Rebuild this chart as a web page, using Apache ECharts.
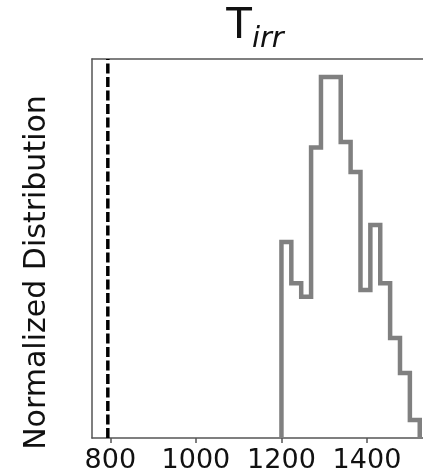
<!DOCTYPE html>
<html>
<head>
<meta charset="utf-8">
<script src="https://cdn.jsdelivr.net/npm/echarts@6/dist/echarts.min.js"></script>
<style>
  html, body { margin: 0; padding: 0; background: #fff; }
  #chart { width: 423px; height: 476px; }
</style>
</head>
<body>
<div id="chart"></div>
<script>
// histogram bins (start, width) and normalized heights
const binStart = 1200;
const binWidth = 23.1;
const binValues = [0.543, 0.429, 0.391, 0.805, 1.0, 1.0, 0.82, 0.737, 0.41, 0.59, 0.429, 0.277, 0.18, 0.05];
// dashed reference value
const refValue = 794;
const xTicks = [800, 1000, 1200, 1400];

// outline of the step histogram
const outline = [[binStart, 0]];
binValues.forEach((v, i) => {
  outline.push([binStart + i * binWidth, v]);
  outline.push([binStart + (i + 1) * binWidth, v]);
});
outline.push([binStart + binValues.length * binWidth, 0]);

const chart = echarts.init(document.getElementById('chart'));
const spine = { show: true, lineStyle: { color: '#555', width: 1.5 } };

const option = {
  animation: false,
  title: {
    text: '{a|T}{b|irr}',
    left: 250,
    textAlign: 'center',
    top: 1,
    textStyle: {
      rich: {
        a: { fontSize: 42, fontFamily: 'DejaVu Sans', fontWeight: 'normal', color: '#111', verticalAlign: 'bottom' },
        b: { fontSize: 29, fontFamily: 'DejaVu Sans', fontWeight: 'normal', fontStyle: 'italic', color: '#111', padding: [0, 0, -6, 0], verticalAlign: 'bottom' }
      }
    }
  },
  grid: { left: 92, right: 0, top: 59, bottom: 38 },
  xAxis: [
    {
      type: 'value',
      min: 757,
      max: 1531,
      interval: 200,
      axisLine: spine,
      axisTick: { show: true, length: 5, lineStyle: { color: '#555', width: 1.5 }, customValues: xTicks },
      axisLabel: {
        fontSize: 27,
        fontFamily: 'DejaVu Sans',
        color: '#111',
        margin: 9,
        customValues: xTicks,
        formatter: (v) => String(v)
      },
      splitLine: { show: false }
    },
    {
      type: 'value',
      position: 'top',
      min: 757,
      max: 1531,
      axisLine: spine,
      axisTick: { show: false },
      axisLabel: { show: false },
      splitLine: { show: false }
    }
  ],
  yAxis: {
    type: 'value',
    min: 0,
    max: 1.05,
    name: 'Normalized Distribution',
    nameLocation: 'middle',
    nameGap: 40,
    nameTextStyle: { fontSize: 30, fontFamily: 'DejaVu Sans', color: '#111', padding: [0, 48, 0, 0] },
    axisLine: spine,
    axisTick: { show: false },
    axisLabel: { show: false },
    splitLine: { show: false }
  },
  series: [
    {
      type: 'line',
      data: [[refValue, 0], [refValue, 1.05]],
      symbol: 'none',
      lineStyle: { color: '#000', width: 3.5, type: [10, 3.5] }
    },
    {
      type: 'line',
      data: outline,
      symbol: 'none',
      lineStyle: { color: '#808080', width: 4.5, join: 'miter', cap: 'butt' }
    }
  ]
};
chart.setOption(option);
</script>
</body>
</html>
